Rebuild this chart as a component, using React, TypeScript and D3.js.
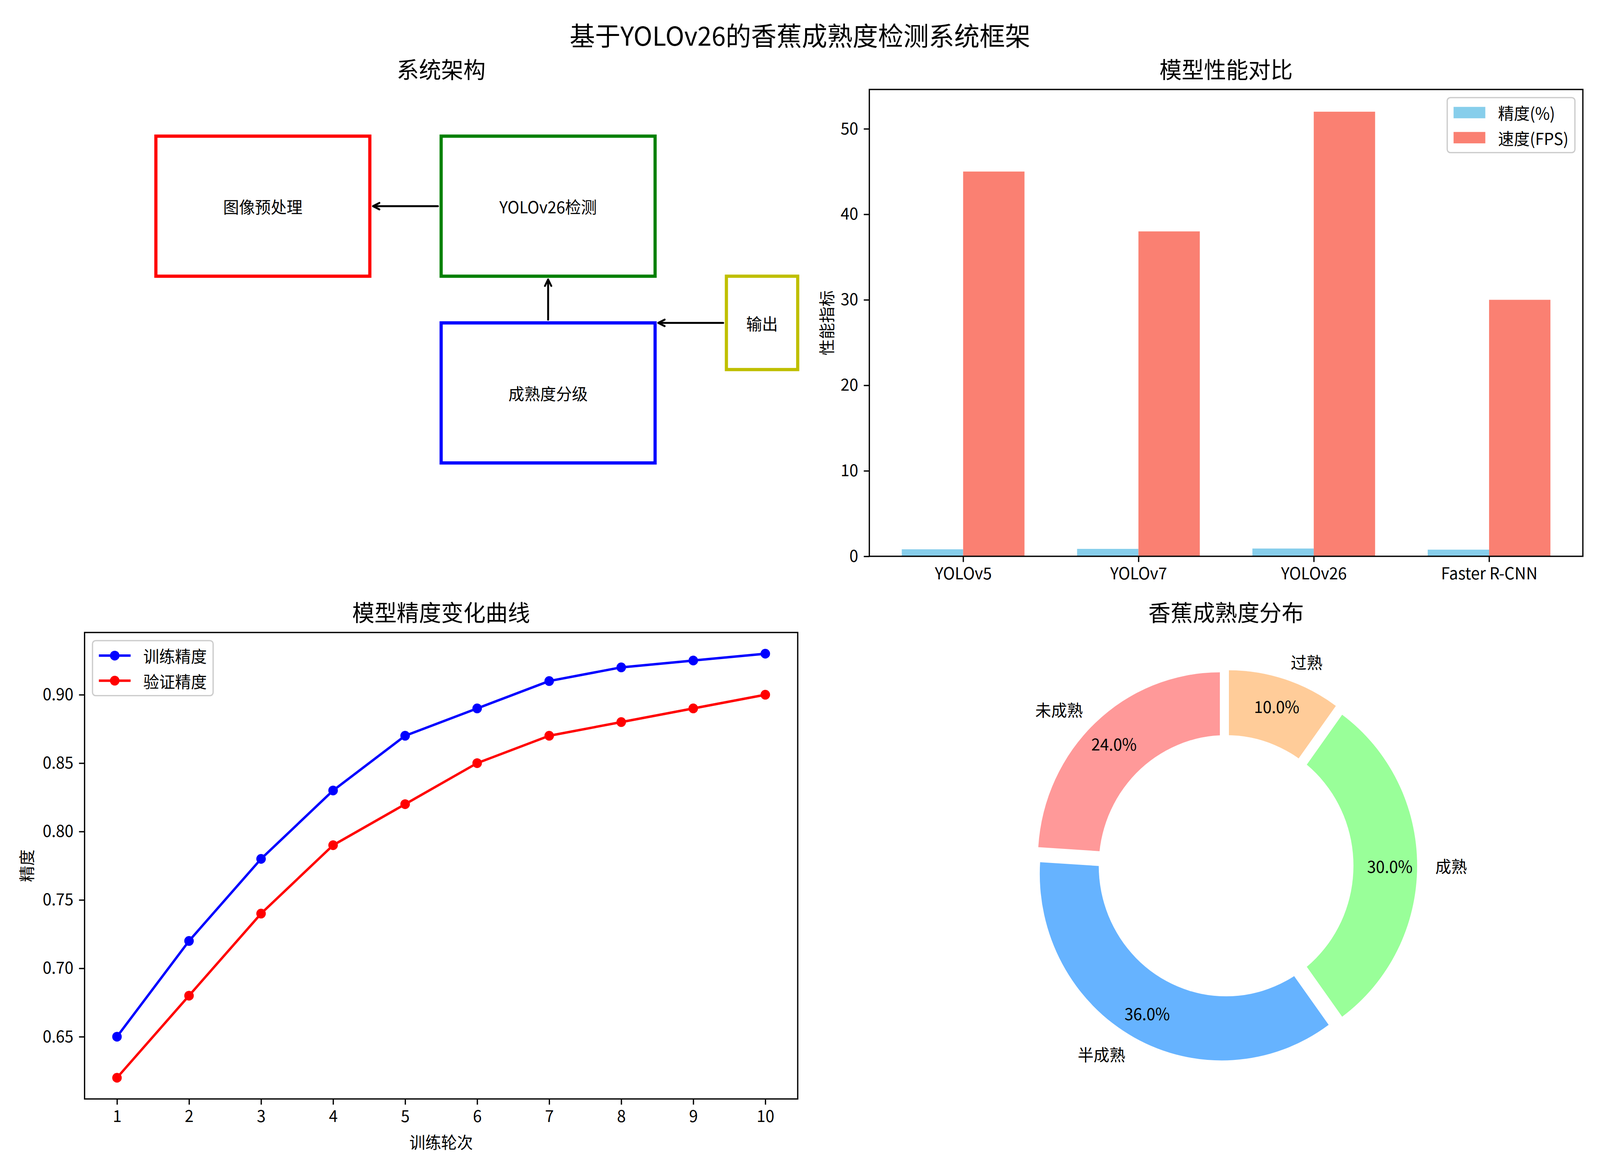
import React, { useEffect, useRef } from 'react';
import * as d3 from 'd3';

const W = 4200;
const H = 3000;
const PT = 300 / 72; // matplotlib points -> pixels at 300 dpi
const FONT = '"Noto Sans CJK SC", "Microsoft YaHei", sans-serif';

// 系统架构 (diagram in data units 0..10)
const boxLabels = ['图像预处理', 'YOLOv26检测', '成熟度分级', '输出'];
const boxX = [1, 5, 5, 9];
const boxY = [6, 6, 2, 4];
const boxW = [3, 3, 3, 1];
const boxH = [3, 3, 3, 2];
const boxColors = ['#ff0000', '#008000', '#0000ff', '#bfbf00'];
const arrowFrom: [number, number][] = [[5, 7.5], [6.5, 5], [9, 5]];
const arrowTo: [number, number][] = [[4, 7.5], [6.5, 6], [8, 5]];

// 模型性能对比
const models = ['YOLOv5', 'YOLOv7', 'YOLOv26', 'Faster R-CNN'];
const accuracy = [0.82, 0.87, 0.91, 0.78];
const fps = [45, 38, 52, 30];
const perfTicks = [0, 10, 20, 30, 40, 50];

// 模型精度变化曲线
const epochs = [1, 2, 3, 4, 5, 6, 7, 8, 9, 10];
const trainAcc = [0.65, 0.72, 0.78, 0.83, 0.87, 0.89, 0.91, 0.92, 0.925, 0.93];
const valAcc = [0.62, 0.68, 0.74, 0.79, 0.82, 0.85, 0.87, 0.88, 0.89, 0.90];
const accTicks = [0.65, 0.70, 0.75, 0.80, 0.85, 0.90];

// 香蕉成熟度分布
const ripeLabels = ['未成熟', '半成熟', '成熟', '过熟'];
const ripeShare = [24, 36, 30, 10];
const ripeColors = ['#ff9999', '#66b3ff', '#99ff99', '#ffcc99'];

interface Box { x0: number; y0: number; x1: number; y1: number; }

const axTL: Box = { x0: 222, y0: 229, x1: 2094, y1: 1424 };
const axTR: Box = { x0: 2282, y0: 229, x1: 4155, y1: 1424 };
const axBL: Box = { x0: 222, y0: 1619, x1: 2094, y1: 2813 };
const axBR: Box = { x0: 2282, y0: 1619, x1: 4155, y1: 2813 };

type Sel = d3.Selection<SVGGElement, unknown, null, undefined>;

interface LegendEntry { label: string; color: string; kind: 'patch' | 'line'; }

const App: React.FC = () => {
  const svgRef = useRef<SVGSVGElement>(null);

  useEffect(() => {
    document.body.style.margin = '0';
    document.body.style.overflow = 'hidden';
    document.documentElement.style.overflow = 'hidden';
    if (!svgRef.current) return;
    const svg = d3.select(svgRef.current);
    svg.selectAll('*').remove();
    const root: Sel = svg.append('g').attr('font-family', FONT);
    const fs = 10 * PT;

    root.append('rect').attr('width', W).attr('height', H).attr('fill', 'white');

    // Suptitle
    root.append('text')
      .attr('x', W / 2).attr('y', 88)
      .attr('text-anchor', 'middle').attr('dominant-baseline', 'central')
      .attr('font-size', 16 * PT)
      .text('基于YOLOv26的香蕉成熟度检测系统框架');

    const title = (ax: Box, t: string) => {
      root.append('text')
        .attr('x', (ax.x0 + ax.x1) / 2).attr('y', ax.y0 - 6 * PT - 4)
        .attr('text-anchor', 'middle')
        .attr('font-size', 14 * PT)
        .text(t);
    };

    const spines = (ax: Box) => {
      root.append('rect')
        .attr('x', ax.x0).attr('y', ax.y0)
        .attr('width', ax.x1 - ax.x0).attr('height', ax.y1 - ax.y0)
        .attr('fill', 'none').attr('stroke', 'black').attr('stroke-width', 0.8 * PT);
    };

    const styleAxis = (g: Sel) => {
      g.select('.domain').remove();
      g.selectAll('line').attr('stroke', 'black').attr('stroke-width', 0.8 * PT);
      g.selectAll('text').attr('font-size', fs).attr('font-family', FONT).attr('fill', 'black');
    };

    const legend = (ax: Box, corner: 'ur' | 'ul', entries: LegendEntry[]) => {
      const g = root.append('g');
      const pad = 0.4 * fs, handleL = 2 * fs, tpad = 0.8 * fs, spacing = 0.5 * fs, rowH = 1.04 * fs;
      const texts = entries.map(e => g.append('text')
        .attr('font-size', fs).attr('dominant-baseline', 'central').text(e.label));
      const tw = d3.max(texts, t => (t.node() as SVGTextElement).getComputedTextLength()) || 0;
      const w = 2 * pad + handleL + tpad + tw;
      const h = 2 * pad + entries.length * rowH + (entries.length - 1) * spacing;
      const left = corner === 'ur' ? ax.x1 - 0.5 * fs - w : ax.x0 + 0.5 * fs;
      const top = ax.y0 + 0.5 * fs;
      g.insert('rect', ':first-child')
        .attr('x', left).attr('y', top).attr('width', w).attr('height', h)
        .attr('rx', 0.2 * fs).attr('fill', 'white').attr('fill-opacity', 0.8)
        .attr('stroke', '#cccccc').attr('stroke-width', 0.8 * PT);
      entries.forEach((e, i) => {
        const cy = top + pad + i * (rowH + spacing) + rowH / 2;
        const hx = left + pad;
        if (e.kind === 'patch') {
          g.append('rect').attr('x', hx).attr('y', cy - 0.35 * fs)
            .attr('width', handleL).attr('height', 0.7 * fs).attr('fill', e.color);
        } else {
          g.append('line').attr('x1', hx).attr('x2', hx + handleL).attr('y1', cy).attr('y2', cy)
            .attr('stroke', e.color).attr('stroke-width', 1.5 * PT);
          g.append('circle').attr('cx', hx + handleL / 2).attr('cy', cy).attr('r', 3 * PT).attr('fill', e.color);
        }
        texts[i].attr('x', hx + handleL + tpad).attr('y', cy);
      });
    };

    // ---------- 系统架构 ----------
    title(axTL, '系统架构');
    const dx = d3.scaleLinear().domain([0, 10]).range([axTL.x0, axTL.x1]);
    const dy = d3.scaleLinear().domain([0, 10]).range([axTL.y1, axTL.y0]);
    boxLabels.forEach((lab, i) => {
      root.append('rect')
        .attr('x', dx(boxX[i])).attr('y', dy(boxY[i] + boxH[i]))
        .attr('width', dx(boxX[i] + boxW[i]) - dx(boxX[i]))
        .attr('height', dy(boxY[i]) - dy(boxY[i] + boxH[i]))
        .attr('fill', 'none').attr('stroke', boxColors[i]).attr('stroke-width', 2 * PT);
      root.append('text')
        .attr('x', dx(boxX[i] + boxW[i] / 2)).attr('y', dy(boxY[i] + boxH[i] / 2))
        .attr('text-anchor', 'middle').attr('dominant-baseline', 'central')
        .attr('font-size', fs).text(lab);
    });
    arrowFrom.forEach((f, i) => {
      const t = arrowTo[i];
      const ax0 = dx(f[0]), ay0 = dy(f[1]), ax1 = dx(t[0]), ay1 = dy(t[1]);
      const len = Math.hypot(ax1 - ax0, ay1 - ay0);
      const ux = (ax1 - ax0) / len, uy = (ay1 - ay0) / len;
      const nx = -uy, ny = ux;
      const shrink = 2 * PT, hl = 4 * PT, hw = 2 * PT;
      const sx = ax0 + ux * shrink, sy = ay0 + uy * shrink;
      const ex = ax1 - ux * shrink, ey = ay1 - uy * shrink;
      const p = d3.path();
      p.moveTo(sx, sy); p.lineTo(ex, ey);
      p.moveTo(ex - ux * hl + nx * hw, ey - uy * hl + ny * hw);
      p.lineTo(ex, ey);
      p.lineTo(ex - ux * hl - nx * hw, ey - uy * hl - ny * hw);
      root.append('path').attr('d', p.toString())
        .attr('fill', 'none').attr('stroke', 'black').attr('stroke-width', 1.2 * PT)
        .attr('stroke-linecap', 'round').attr('stroke-linejoin', 'round');
    });

    // ---------- 模型性能对比 ----------
    title(axTR, '模型性能对比');
    const bw = 0.35;
    const bx = d3.scaleLinear().domain([-bw - 0.05 * (3 + 2 * bw), 3 + bw + 0.05 * (3 + 2 * bw)]).range([axTR.x0, axTR.x1]);
    const by = d3.scaleLinear().domain([0, (d3.max(fps) || 0) * 1.05]).range([axTR.y1, axTR.y0]);
    models.forEach((_, i) => {
      root.append('rect')
        .attr('x', bx(i - bw)).attr('y', by(accuracy[i]))
        .attr('width', bx(i) - bx(i - bw)).attr('height', by(0) - by(accuracy[i]))
        .attr('fill', '#87CEEB');
      root.append('rect')
        .attr('x', bx(i)).attr('y', by(fps[i]))
        .attr('width', bx(i + bw) - bx(i)).attr('height', by(0) - by(fps[i]))
        .attr('fill', '#FA8072');
    });
    const bxAxis = root.append('g').attr('transform', `translate(0,${axTR.y1})`)
      .call(d3.axisBottom(bx).tickValues(models.map((_, i) => i))
        .tickFormat(i => models[i as number]).tickSizeInner(3.5 * PT).tickSizeOuter(0).tickPadding(3.5 * PT));
    styleAxis(bxAxis);
    const byAxis = root.append('g').attr('transform', `translate(${axTR.x0},0)`)
      .call(d3.axisLeft(by).tickValues(perfTicks).tickFormat(d3.format('d'))
        .tickSizeInner(3.5 * PT).tickSizeOuter(0).tickPadding(3.5 * PT));
    styleAxis(byAxis);
    root.append('text')
      .attr('transform', `translate(2168,${(axTR.y0 + axTR.y1) / 2}) rotate(-90)`)
      .attr('text-anchor', 'middle').attr('dominant-baseline', 'central')
      .attr('font-size', fs).text('性能指标');
    spines(axTR);
    legend(axTR, 'ur', [
      { label: '精度(%)', color: '#87CEEB', kind: 'patch' },
      { label: '速度(FPS)', color: '#FA8072', kind: 'patch' },
    ]);

    // ---------- 模型精度变化曲线 ----------
    title(axBL, '模型精度变化曲线');
    const lo = Math.min(d3.min(trainAcc) || 0, d3.min(valAcc) || 0);
    const hi = Math.max(d3.max(trainAcc) || 0, d3.max(valAcc) || 0);
    const lx = d3.scaleLinear().domain([1 - 0.45, 10 + 0.45]).range([axBL.x0, axBL.x1]);
    const ly = d3.scaleLinear().domain([lo - 0.05 * (hi - lo), hi + 0.05 * (hi - lo)]).range([axBL.y1, axBL.y0]);
    const line = d3.line<number>().x((_, i) => lx(epochs[i])).y(d => ly(d));
    [{ v: trainAcc, c: '#0000ff' }, { v: valAcc, c: '#ff0000' }].forEach(s => {
      root.append('path').datum(s.v).attr('d', line)
        .attr('fill', 'none').attr('stroke', s.c).attr('stroke-width', 1.5 * PT)
        .attr('stroke-linejoin', 'round');
      root.selectAll(null).data(s.v).enter().append('circle')
        .attr('cx', (_, i) => lx(epochs[i])).attr('cy', d => ly(d))
        .attr('r', 3 * PT).attr('fill', s.c);
    });
    const lxAxis = root.append('g').attr('transform', `translate(0,${axBL.y1})`)
      .call(d3.axisBottom(lx).tickValues(epochs).tickFormat(d3.format('d'))
        .tickSizeInner(3.5 * PT).tickSizeOuter(0).tickPadding(3.5 * PT));
    styleAxis(lxAxis);
    const lyAxis = root.append('g').attr('transform', `translate(${axBL.x0},0)`)
      .call(d3.axisLeft(ly).tickValues(accTicks).tickFormat(d3.format('.2f'))
        .tickSizeInner(3.5 * PT).tickSizeOuter(0).tickPadding(3.5 * PT));
    styleAxis(lyAxis);
    root.append('text')
      .attr('transform', `translate(68,${(axBL.y0 + axBL.y1) / 2}) rotate(-90)`)
      .attr('text-anchor', 'middle').attr('dominant-baseline', 'central')
      .attr('font-size', fs).text('精度');
    root.append('text')
      .attr('x', (axBL.x0 + axBL.x1) / 2).attr('y', 2922)
      .attr('text-anchor', 'middle').attr('dominant-baseline', 'central')
      .attr('font-size', fs).text('训练轮次');
    spines(axBL);
    legend(axBL, 'ul', [
      { label: '训练精度', color: '#0000ff', kind: 'line' },
      { label: '验证精度', color: '#ff0000', kind: 'line' },
    ]);

    // ---------- 香蕉成熟度分布 ----------
    title(axBR, '香蕉成熟度分布');
    const cx = (axBR.x0 + axBR.x1) / 2;
    const cy = (axBR.y0 + axBR.y1) / 2;
    const R = (axBR.y1 - axBR.y0) / 2.5;
    const explode = 0.05;
    const pie = d3.pie<number>().sort(null).startAngle(0).endAngle(-2 * Math.PI);
    const arcs = pie(ripeShare);
    const arc = d3.arc<d3.PieArcDatum<number>>().innerRadius(0).outerRadius(R);
    const total = d3.sum(ripeShare);
    const pg = root.append('g').attr('transform', `translate(${cx},${cy})`);
    arcs.forEach((a, i) => {
      const mid = (a.startAngle + a.endAngle) / 2;
      const ox = Math.sin(mid) * explode * R, oy = -Math.cos(mid) * explode * R;
      pg.append('path').attr('d', arc(a) || '')
        .attr('transform', `translate(${ox},${oy})`)
        .attr('fill', ripeColors[i]);
    });
    pg.append('circle').attr('r', 0.7 * R).attr('fill', 'white');
    arcs.forEach((a, i) => {
      const mid = (a.startAngle + a.endAngle) / 2;
      const sx = Math.sin(mid), sy = -Math.cos(mid);
      const lr = (1.1 + explode) * R;
      pg.append('text')
        .attr('x', sx * lr).attr('y', sy * lr)
        .attr('text-anchor', sx > 0 ? 'start' : 'end').attr('dominant-baseline', 'central')
        .attr('font-size', fs).text(ripeLabels[i]);
      const pr = (0.85 + explode) * R;
      pg.append('text')
        .attr('x', sx * pr).attr('y', sy * pr)
        .attr('text-anchor', 'middle').attr('dominant-baseline', 'central')
        .attr('font-size', fs).text(`${(ripeShare[i] / total * 100).toFixed(1)}%`);
    });
  }, []);

  return (
    <svg
      ref={svgRef}
      viewBox={`0 0 ${W} ${H}`}
      preserveAspectRatio="none"
      style={{ display: 'block', width: '100vw', height: '100vh' }}
    />
  );
};

export default App;
